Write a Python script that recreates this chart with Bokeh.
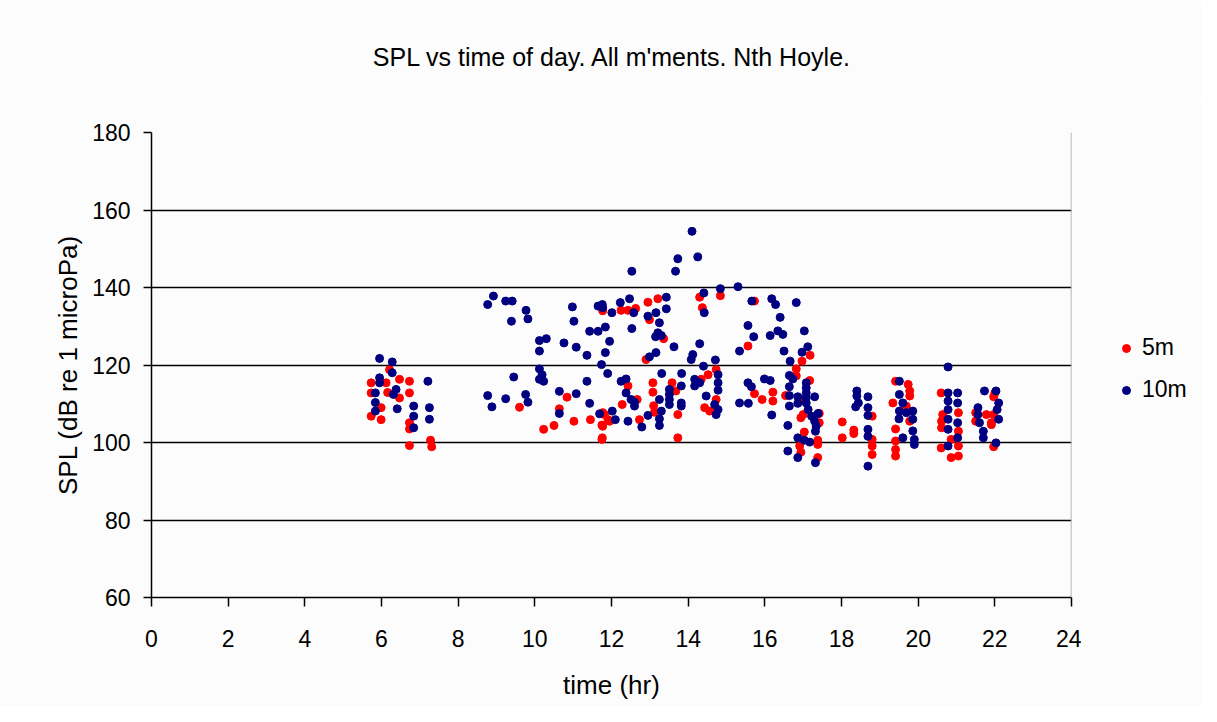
from bokeh.plotting import figure
from bokeh.layouts import row, column
from bokeh.models import ColumnDataSource, FixedTicker, Legend, LegendItem, Span
from bokeh.embed import file_html
from bokeh.resources import INLINE

# ---- data ----
red_time = [
    5.73, 5.73, 5.73, 5.99, 5.99, 6.12, 6.16, 6.21, 6.47, 6.47, 6.73, 6.73, 6.73, 6.73, 6.73, 7.28, 7.31,
    9.60, 10.84, 10.64, 10.23, 10.50, 11.02, 11.45, 11.75, 11.95, 11.75, 11.77, 11.82,
    12.95, 13.21, 12.25, 12.43, 12.63, 12.99, 14.30, 14.37, 14.84, 13.36, 12.90, 15.56,
    12.28, 12.43, 12.67, 13.08, 13.08, 13.12, 13.58, 13.68, 13.73, 13.73, 14.34, 14.43,
    14.56, 14.52, 14.73, 14.73, 11.77, 11.77, 11.76, 11.91, 12.73, 13.10,
    15.73, 17.18, 16.97, 16.82, 16.82, 17.17, 15.73, 15.93, 16.21, 16.21, 16.54, 16.94,
    17.00, 16.94, 17.42, 17.42, 17.03, 17.38, 17.38, 16.91, 16.94, 17.38, 18.02, 18.02,
    18.32, 18.32, 18.80, 18.80, 18.80,
    19.41, 19.74, 19.78, 19.78, 19.34, 19.69, 19.78, 19.41, 19.41, 19.41, 19.41, 18.80,
    20.60, 20.64, 20.61, 20.61, 20.60, 20.86, 20.86, 21.05, 21.05, 21.05, 21.05, 21.50,
    21.50, 21.78, 21.91, 22.00, 21.97, 21.97, 21.91, 21.97,
]
red_spl = [
    115.4, 112.8, 106.8, 109.0, 105.9, 115.4, 112.9, 118.8, 116.3, 111.5, 115.8, 112.8, 105.1, 103.5, 99.2, 100.6, 98.9,
    109.1, 111.7, 108.7, 103.4, 104.4, 105.5, 105.9, 104.5, 105.5, 100.8, 134.0, 107.2,
    136.2, 137.1, 134.1, 134.1, 134.6, 131.7, 137.5, 134.8, 137.9, 126.8, 121.4, 124.9,
    109.8, 114.6, 111.1, 115.4, 113.0, 107.8, 115.4, 113.3, 107.2, 101.2, 116.3, 109.0,
    108.1, 117.5, 118.8, 111.1, 107.7, 104.2, 101.2, 105.9, 105.9, 109.5,
    136.5, 122.5, 121.0, 119.0, 117.2, 116.0, 112.6, 111.1, 113.0, 110.7, 112.1, 111.1,
    107.2, 106.4, 107.5, 105.1, 102.7, 100.6, 99.5, 99.1, 97.5, 96.1, 105.3, 101.2,
    103.2, 102.3, 106.8, 99.1, 96.9,
    115.8, 115.0, 113.3, 112.0, 110.2, 109.4, 105.5, 103.5, 100.4, 98.2, 96.5, 100.8,
    112.8, 107.2, 105.5, 103.8, 98.6, 100.8, 96.1, 107.7, 102.9, 99.1, 96.5, 107.7,
    105.5, 107.2, 104.6, 112.8, 111.8, 107.2, 105.1, 98.9,
]

blue_time = [
    5.95, 6.28, 6.28, 5.95, 5.95, 6.38, 6.31, 5.84, 5.84, 5.84, 6.41, 7.21, 6.84, 6.84, 6.84, 7.25, 7.25,
    8.92, 8.77, 9.24, 9.41, 9.77, 9.82, 9.39, 10.30, 10.12, 10.12, 10.76, 11.08, 10.98, 11.02,
    11.65, 11.76, 11.77, 12.01, 11.43, 11.65, 11.84, 11.95, 11.36, 11.84, 10.12, 10.19, 10.12,
    10.23, 9.45, 11.74, 11.90, 11.36, 10.64, 11.08, 8.77, 8.88, 9.24, 9.76, 9.82, 11.43, 10.64,
    11.69, 12.02, 12.10,
    14.10, 14.25, 13.73, 13.67, 12.53, 14.41, 14.84, 15.30, 14.42, 13.43, 12.47, 12.23, 12.58,
    13.16, 13.43, 12.95, 13.25, 12.53, 13.21, 13.30, 13.15, 13.63, 14.30, 13.16, 12.99, 14.12,
    14.08, 15.34, 15.56, 13.31, 13.83, 14.40, 14.71, 14.78, 14.78, 14.78, 12.25, 12.38, 12.38,
    12.51, 12.60, 12.60, 13.25, 13.51, 13.51, 13.51, 13.51, 13.82, 13.82, 13.82, 14.17, 14.17,
    14.30, 14.47, 14.69, 14.78, 14.73, 12.43, 12.79, 12.95, 13.25, 13.25, 13.30, 15.34, 15.56,
    15.66, 16.18, 16.28, 16.82, 16.40, 15.71, 16.34, 16.47, 16.14, 17.03, 16.50, 17.12, 16.97,
    16.66, 16.64, 16.73, 16.64, 15.99, 16.14, 15.65, 17.08, 17.08, 17.08, 17.08, 17.08, 16.64,
    16.86, 17.30, 16.64, 16.86, 15.57, 16.18, 17.13, 17.22, 17.39, 17.30, 17.34, 17.32, 16.60,
    16.86, 17.03, 17.17, 16.60, 16.86, 17.32, 18.40, 18.40, 18.44, 18.37, 18.69, 18.69, 18.69,
    18.69, 18.69, 18.69,
    20.78, 19.51, 19.51, 19.60, 19.51, 19.69, 19.86, 19.86, 19.86, 19.90, 19.90, 19.60, 19.50,
    20.78, 20.78, 20.78, 20.78, 20.78, 20.78, 21.03, 21.03, 21.03, 21.03, 21.73, 21.56, 21.56,
    21.60, 21.70, 21.70, 22.03, 22.10, 22.06, 22.10, 22.03,
]
blue_spl = [
    121.7, 120.8, 118.0, 116.7, 115.4, 113.7, 112.4, 112.8, 110.3, 108.1, 108.7, 115.8, 109.4, 106.8, 103.8, 109.0, 106.0,
    137.8, 135.6, 136.5, 136.5, 134.1, 131.9, 131.3, 126.8, 126.3, 123.6, 125.7, 124.6, 135.0, 131.3,
    135.2, 135.6, 134.8, 133.5, 128.7, 128.7, 129.8, 126.1, 122.5, 123.2, 119.0, 117.5, 116.3,
    115.8, 116.9, 120.1, 117.8, 115.8, 113.2, 112.6, 112.1, 109.2, 111.3, 112.4, 110.4, 110.1, 107.5,
    107.4, 108.1, 105.9,
    154.5, 147.9, 147.4, 144.2, 144.2, 138.6, 139.7, 140.2, 133.5, 137.5, 137.1, 136.1, 133.5,
    133.5, 134.5, 132.6, 130.9, 129.4, 128.3, 127.6, 127.3, 124.7, 125.5, 123.2, 122.1, 122.7,
    121.4, 123.6, 130.2, 117.8, 117.8, 119.7, 121.3, 117.5, 115.4, 113.5, 115.8, 116.4, 112.8,
    111.1, 110.4, 109.4, 111.1, 113.7, 112.4, 111.1, 109.8, 114.6, 110.2, 109.4, 116.3, 114.6,
    115.4, 112.0, 109.8, 108.5, 107.2, 105.5, 104.0, 107.0, 106.1, 104.4, 108.1, 110.2, 115.4,
    136.5, 137.1, 135.6, 136.1, 132.3, 127.3, 128.8, 127.9, 127.6, 128.8, 123.6, 124.7, 123.3,
    121.0, 117.3, 116.4, 114.4, 116.4, 116.0, 114.4, 115.4, 114.1, 112.8, 111.5, 110.2, 112.1,
    111.8, 111.8, 109.4, 110.1, 110.1, 107.1, 108.5, 106.8, 107.5, 105.5, 104.2, 102.9, 104.4,
    101.2, 100.6, 100.1, 97.8, 96.1, 94.8, 113.3, 112.0, 110.2, 109.2, 111.8, 109.0, 107.0,
    103.4, 101.6, 93.9,
    119.5, 115.8, 112.4, 110.2, 108.1, 107.7, 108.1, 106.0, 103.0, 100.8, 99.5, 101.2, 106.1,
    112.8, 110.7, 108.5, 106.0, 103.4, 99.1, 112.8, 110.2, 105.1, 101.2, 113.3, 109.0, 107.2,
    105.1, 102.9, 101.2, 113.3, 110.2, 108.5, 106.0, 99.9,
]

x_ticks = list(range(0, 25, 2))
y_ticks = list(range(60, 181, 20))
series_labels = ["5m", "10m"]
title_text = "SPL vs time of day.  All m'ments.  Nth Hoyle."
x_label = "time (hr)"
y_label = "SPL (dB re 1 microPa)"

FONT = "Liberation Sans"
RED = "#ff0000"
BLUE = "#000080"
BG = "#fbfcfb"

# ---- header strip carrying the chart title ----
ph = figure(
    width=1201, height=100, x_range=(0, 1), y_range=(0, 1),
    output_backend="svg", toolbar_location=None,
    min_border_left=159, min_border_right=122, min_border_top=75, min_border_bottom=0,
    x_axis_type=None, y_axis_type=None,
    background_fill_color=BG, border_fill_color=BG,
)
ph.outline_line_color = None
ph.grid.visible = False
ph.title.text = title_text
ph.title.align = "center"
ph.title.text_font = FONT
ph.title.text_font_size = "25px"
ph.title.text_font_style = "normal"
ph.title.text_color = "black"
ph.title.standoff = 10

# ---- main chart ----
p = figure(
    width=1081, height=606,
    x_range=(0, 24), y_range=(60, 180),
    output_backend="svg", toolbar_location=None,
    min_border_left=151, min_border_right=10,
    min_border_top=32, min_border_bottom=109,
    background_fill_color=BG, border_fill_color=BG,
)
p.outline_line_color = None

red_src = ColumnDataSource(dict(t=red_time, spl=red_spl))
blue_src = ColumnDataSource(dict(t=blue_time, spl=blue_spl))
p.scatter("t", "spl", source=red_src, size=8, color=RED, marker="circle")
p.scatter("t", "spl", source=blue_src, size=8, color=BLUE, marker="circle")

for ax in (p.xaxis[0], p.yaxis[0]):
    ax.axis_line_color = "black"
    ax.axis_line_width = 1.5
    ax.major_tick_line_color = "black"
    ax.major_tick_line_width = 1.5
    ax.major_tick_in = 0
    ax.minor_tick_line_color = None
    ax.major_label_text_font = FONT
    ax.major_label_text_font_size = "23px"
    ax.major_label_text_color = "black"
    ax.axis_label_text_font = FONT
    ax.axis_label_text_font_size = "26px"
    ax.axis_label_text_font_style = "normal"
    ax.axis_label_text_color = "black"

p.xaxis.ticker = FixedTicker(ticks=x_ticks)
p.yaxis.ticker = FixedTicker(ticks=y_ticks)
p.xaxis.major_tick_out = 9
p.yaxis.major_tick_out = 8
p.xaxis.major_label_standoff = 23
p.yaxis.major_label_standoff = 13
p.xaxis.axis_label = x_label
p.yaxis.axis_label = y_label
p.xaxis.axis_label_standoff = 20
p.yaxis.axis_label_standoff = 6

p.xgrid.grid_line_color = None
p.ygrid.grid_line_color = "black"
p.ygrid.grid_line_width = 1.5

p.add_layout(Span(location=24, dimension="height", line_color="#a0a0a0", line_width=1.5))

# ---- legend panel to the right of the chart ----
pl = figure(
    width=120, height=606, x_range=(0, 1), y_range=(0, 1),
    output_backend="svg", toolbar_location=None, min_border=0,
    x_axis_type=None, y_axis_type=None,
    background_fill_color=BG, border_fill_color=BG,
)
pl.outline_line_color = None
pl.grid.visible = False
leg_red = pl.scatter(x=[5], y=[5], size=6, color=RED, marker="circle")
leg_blue = pl.scatter(x=[5], y=[5], size=6, color=BLUE, marker="circle")

legend = Legend(
    items=[LegendItem(label=series_labels[0], renderers=[leg_red]),
           LegendItem(label=series_labels[1], renderers=[leg_blue])],
    location=(35, 194), margin=0, padding=4,
    border_line_color=None, background_fill_alpha=0,
    label_text_font=FONT, label_text_font_size="23px", label_text_color="black",
    label_standoff=6, glyph_width=20, glyph_height=26, label_height=26, spacing=15,
)
pl.add_layout(legend)

layout = column(ph, row(p, pl))
open("out.html", "w").write(file_html(layout, INLINE))
